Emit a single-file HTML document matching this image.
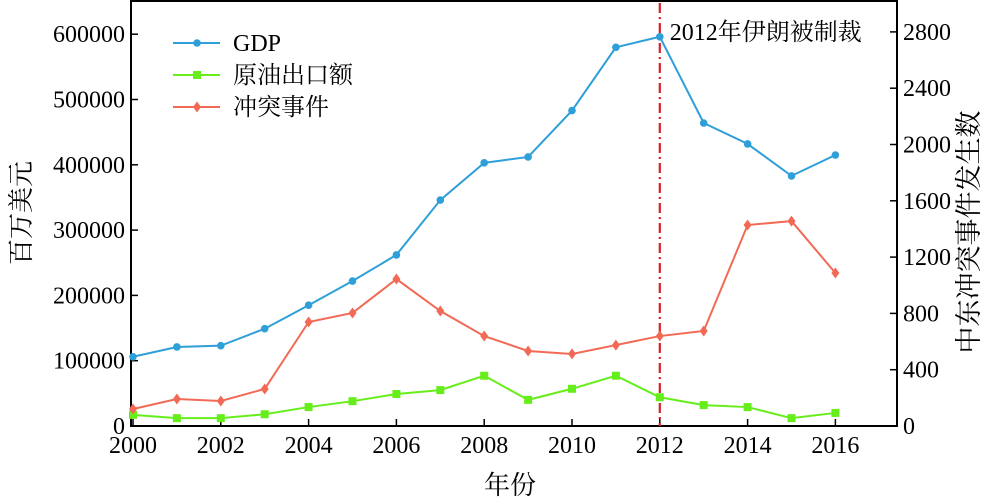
<!DOCTYPE html>
<html><head><meta charset="utf-8">
<style>
html,body{margin:0;padding:0;background:#fff;}
svg{display:block;font-family:"Liberation Serif","Noto Serif CJK SC",serif;}
</style></head>
<body>
<svg id="chart" width="1000" height="501" viewBox="0 0 1000 501" xmlns="http://www.w3.org/2000/svg">
</svg>
<script>
const years = [2000,2001,2002,2003,2004,2005,2006,2007,2008,2009,2010,2011,2012,2013,2014,2015,2016];
const gdpValues = [106000,121000,123000,149000,185000,222000,262000,346000,403000,412000,483000,580000,596000,464000,432000,383000,415000];
const oilValues = [17000,12000,12000,18000,29000,38000,49000,55000,77000,40000,57000,77000,44000,32000,29000,12000,20000];
const conflictValues = [121,192,178,263,739,803,1044,817,639,533,512,575,639,675,1428,1456,1087];
const xTicks = [2000,2002,2004,2006,2008,2010,2012,2014,2016];
const leftTicks = [0,100000,200000,300000,400000,500000,600000];
const rightTicks = [0,400,800,1200,1600,2000,2400,2800];
const sanctionYear = 2012;

const L=131, R=897, T=1, B=426;
const x = v => 133 + (v-2000)*43.9;
const yL = v => B - v/100000*65.3;
const yR = v => B - v/400*56.3;
const svg = document.getElementById('chart');
const NS='http://www.w3.org/2000/svg';
function mk(tag, attrs, parent){const e=document.createElementNS(NS,tag);for(const k in attrs)e.setAttribute(k,attrs[k]);(parent||svg).appendChild(e);return e;}

const frame = mk('rect',{x:L,y:T,width:R-L,height:B-T,fill:'none',stroke:'#000','stroke-width':2});



xTicks.forEach(t=>{
  const ln=mk('line',{x1:x(t),x2:x(t),y1:B,y2:B-7,stroke:'#000','stroke-width':1.5});
  
  
  const tx=mk('text',{x:x(t),y:B+27,'text-anchor':'middle','font-size':24});
  tx.textContent=t;
  
  
});
leftTicks.forEach(t=>{
  const ln=mk('line',{x1:L,x2:L+7,y1:yL(t),y2:yL(t),stroke:'#000','stroke-width':1.5});
  
  
  const tx=mk('text',{x:L-6,y:yL(t)+8,'text-anchor':'end','font-size':24});
  tx.textContent=t;
  
  
});
rightTicks.forEach(t=>{
  const ln=mk('line',{x1:R,x2:R-7,y1:yR(t),y2:yR(t),stroke:'#000','stroke-width':1.5});
  
  
  const tx=mk('text',{x:R+6,y:yR(t)+8,'text-anchor':'start','font-size':24});
  tx.textContent=t;
  
  
});

const sl=mk('line',{x1:x(sanctionYear),x2:x(sanctionYear),y1:T+2,y2:B,stroke:'#d9202a','stroke-width':2.2,'stroke-dasharray':'10,4,2,4'});


const st=mk('text',{x:x(sanctionYear)+10,y:40,'font-size':24});
st.textContent='2012年伊朗被制裁';



function series(vals, yf, color, marker, name){
  const pts=vals.map((v,i)=>x(years[i])+','+yf(v)).join(' ');
  const pl=mk('polyline',{points:pts,fill:'none',stroke:color,'stroke-width':2});
  
  
  vals.forEach((v,i)=>{
    const cx=x(years[i]), cy=yf(v);
    let m;
    if(marker==='circle') m=mk('circle',{cx:cx,cy:cy,r:3.8,fill:color});
    else if(marker==='square') m=mk('rect',{x:cx-4,y:cy-4,width:8,height:8,fill:color});
    else m=mk('polygon',{points:`${cx},${cy-5.5} ${cx+4},${cy} ${cx},${cy+5.5} ${cx-4},${cy}`,fill:color});
    
    
  });
}
series(gdpValues,yL,'#2e9fd8','circle','gdp');
series(oilValues,yL,'#66ee1a','square','oil-export');
series(conflictValues,yR,'#f26a55','diamond','conflict');

const leg=[['GDP','#2e9fd8','circle'],['原油出口额','#66ee1a','square'],['冲突事件','#f26a55','diamond']];
leg.forEach((d,i)=>{
  const cy=43+i*32;
  const g=mk('g',{});
  
  
  mk('line',{x1:173,x2:220,y1:cy,y2:cy,stroke:d[1],'stroke-width':2},g);
  if(d[2]==='circle') mk('circle',{cx:197,cy:cy,r:3.8,fill:d[1]},g);
  else if(d[2]==='square') mk('rect',{x:193,y:cy-4,width:8,height:8,fill:d[1]},g);
  else mk('polygon',{points:`197,${cy-5.5} 201,${cy} 197,${cy+5.5} 193,${cy}`,fill:d[1]},g);
  const t=mk('text',{x:233,y:cy+8,'font-size':24},g);
  t.textContent=d[0];
});

const xt=mk('text',{x:510,y:494,'text-anchor':'middle','font-size':26});
xt.textContent='年份';


const ylt=mk('text',{x:0,y:0,'text-anchor':'middle','font-size':26,transform:'translate(30,213) rotate(-90)'});
ylt.textContent='百万美元';


const yrt=mk('text',{x:0,y:0,'text-anchor':'middle','font-size':27,transform:'translate(978,232) rotate(-90)'});
yrt.textContent='中东冲突事件发生数';


</script>
</body></html>
